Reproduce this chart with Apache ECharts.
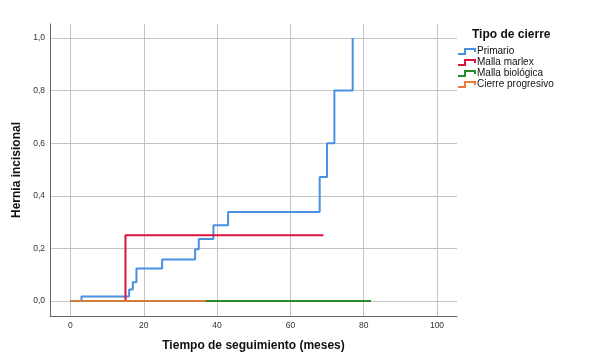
<!DOCTYPE html>
<html>
<head>
<meta charset="utf-8">
<script src="https://cdn.jsdelivr.net/npm/echarts@6/dist/echarts.min.js"></script>
<style>html,body{margin:0;padding:0;background:#fff}#c{width:612px;height:362px}</style>
</head>
<body>
<div id="c"></div>
<script>
// Data
var seriesNames = ['Primario', 'Malla marlex', 'Malla biológica', 'Cierre progresivo'];
var primarioT = [0, 3, 16, 17, 18, 25, 34, 35, 39, 43, 68, 70, 72, 77];
var primarioV = [0, 0.017, 0.044, 0.071, 0.124, 0.158, 0.197, 0.236, 0.288, 0.338, 0.471, 0.60, 0.80, 1.0];
var marlexT = [0, 15, 69];
var marlexV = [0, 0.25, 0.25];
var biologicaT = [0, 82];
var biologicaV = [0, 0];
var progresivoT = [0, 37];
var progresivoV = [0, 0];
var xTicks = [0, 20, 40, 60, 80, 100];
var yTicks = [0, 0.2, 0.4, 0.6, 0.8, 1.0];

var colors = ['#4a90e2', '#d8153f', '#2a8a2a', '#ee7a3a'];
function pairs(t, v) { return t.map(function (x, i) { return [x, v[i]]; }); }
var iconPath = 'path://M0,5 L6,5 L6,0 L18,0 L18,4 L16,4 L16,2 L8,2 L8,7 L0,7 Z';

var gridLines = xTicks.map(function (v) { return {xAxis: v}; })
  .concat(yTicks.map(function (v) { return {yAxis: v}; }));

function stepSeries(i, t, v, extra) {
  return Object.assign({
    name: seriesNames[i], type: 'line', step: 'end', symbol: 'none',
    data: pairs(t, v), color: colors[i],
    itemStyle: {color: colors[i]},
    lineStyle: {width: 2, color: colors[i]}, z: 2 + i
  }, extra || {});
}

var chart = echarts.init(document.getElementById('c'), null, {renderer: 'canvas'});
var lbl = {fontFamily: 'Liberation Sans', fontSize: 8.5, color: '#333'};
chart.setOption({
  animation: false,
  title: {
    text: 'Tipo de cierre', left: 467, top: 24,
    textStyle: {fontFamily: 'Liberation Sans', fontSize: 12, fontWeight: 'bold', color: '#111'}
  },
  legend: {
    orient: 'vertical', left: 453, top: 41, itemGap: 0,
    itemWidth: 18, itemHeight: 7, icon: iconPath,
    textStyle: {fontFamily: 'Liberation Sans', fontSize: 10, color: '#111', lineHeight: 11, padding: [0, 0, 0, -4]},
    data: seriesNames
  },
  grid: {left: 50, top: 24, right: 155, bottom: 46, containLabel: false},
  xAxis: {
    type: 'value', min: -5.59, max: 105.46,
    name: 'Tiempo de seguimiento (meses)', nameLocation: 'middle', nameGap: 24,
    nameTextStyle: {fontFamily: 'Liberation Sans', fontSize: 12, fontWeight: 'bold', color: '#111'},
    axisLine: {show: true, onZero: false, lineStyle: {color: '#666', width: 1}},
    axisTick: {show: false, customValues: xTicks},
    axisLabel: Object.assign({customValues: xTicks, margin: 5, formatter: function (v) { return String(v); }}, lbl),
    splitLine: {show: false}
  },
  yAxis: {
    type: 'value', min: -0.057, max: 1.053,
    name: 'Hernia incisional', nameLocation: 'middle', nameGap: 22,
    nameTextStyle: {fontFamily: 'Liberation Sans', fontSize: 12, fontWeight: 'bold', color: '#111'},
    axisLine: {show: true, onZero: false, lineStyle: {color: '#666', width: 1}},
    axisTick: {show: false, customValues: yTicks},
    axisLabel: Object.assign({customValues: yTicks, margin: 5, formatter: function (v) { return v.toFixed(1).replace('.', ','); }}, lbl),
    splitLine: {show: false}
  },
  series: [
    {name: '_grid', type: 'line', data: [], z: 0, silent: true,
     markLine: {silent: true, z: 0, symbol: ['none', 'none'], label: {show: false}, animation: false,
       emphasis: {disabled: true},
       lineStyle: {color: '#c4c4c4', width: 1, type: 'solid'}, data: gridLines}},
    stepSeries(0, primarioT, primarioV),
    stepSeries(1, marlexT, marlexV),
    stepSeries(2, biologicaT, biologicaV),
    stepSeries(3, progresivoT, progresivoV, {lineStyle: {width: 2, color: colors[3], opacity: 0.85}})
  ]
});
</script>
</body>
</html>
